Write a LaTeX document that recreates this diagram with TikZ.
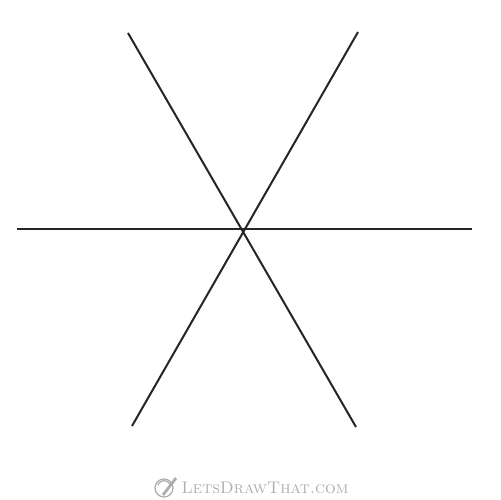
\documentclass[tikz,border=0pt]{standalone}
\usepackage{tikz}
\definecolor{logogray}{gray}{0.68}
\tikzset{
  spoke/.style={line width=1.15pt,black!85},
  logo/.style={logogray,line width=0.7pt}
}
\begin{document}
\begin{tikzpicture}[x=0.02cm,y=-0.02cm]
    \useasboundingbox (0,0) rectangle (500,500);
    \coordinate (c) at (243,230);
    \coordinate (w) at (17,229);
    \coordinate (e) at (472,229);
    \coordinate (nw) at (128,33);
    \coordinate (se) at (356,427);
    \coordinate (ne) at (358,32);
    \coordinate (sw) at (132,426);
    \draw[spoke] (w)--(e);
    \draw[spoke] (nw)--(se);
    \draw[spoke] (ne)--(sw);
    % logo
    \coordinate (icon) at (164,488);
    \draw[logo] (icon) circle(9);
    \draw[logo] (158,485) arc(200:340:6.5);
    \draw[logo,line width=1.6pt] (163,495)--(176,478);
    \node[logogray,anchor=west,inner sep=0pt,font=\fontsize{9.6}{11}\selectfont\scshape] (site) at (181,488) {LetsDrawThat.com};
\end{tikzpicture}
\end{document}
